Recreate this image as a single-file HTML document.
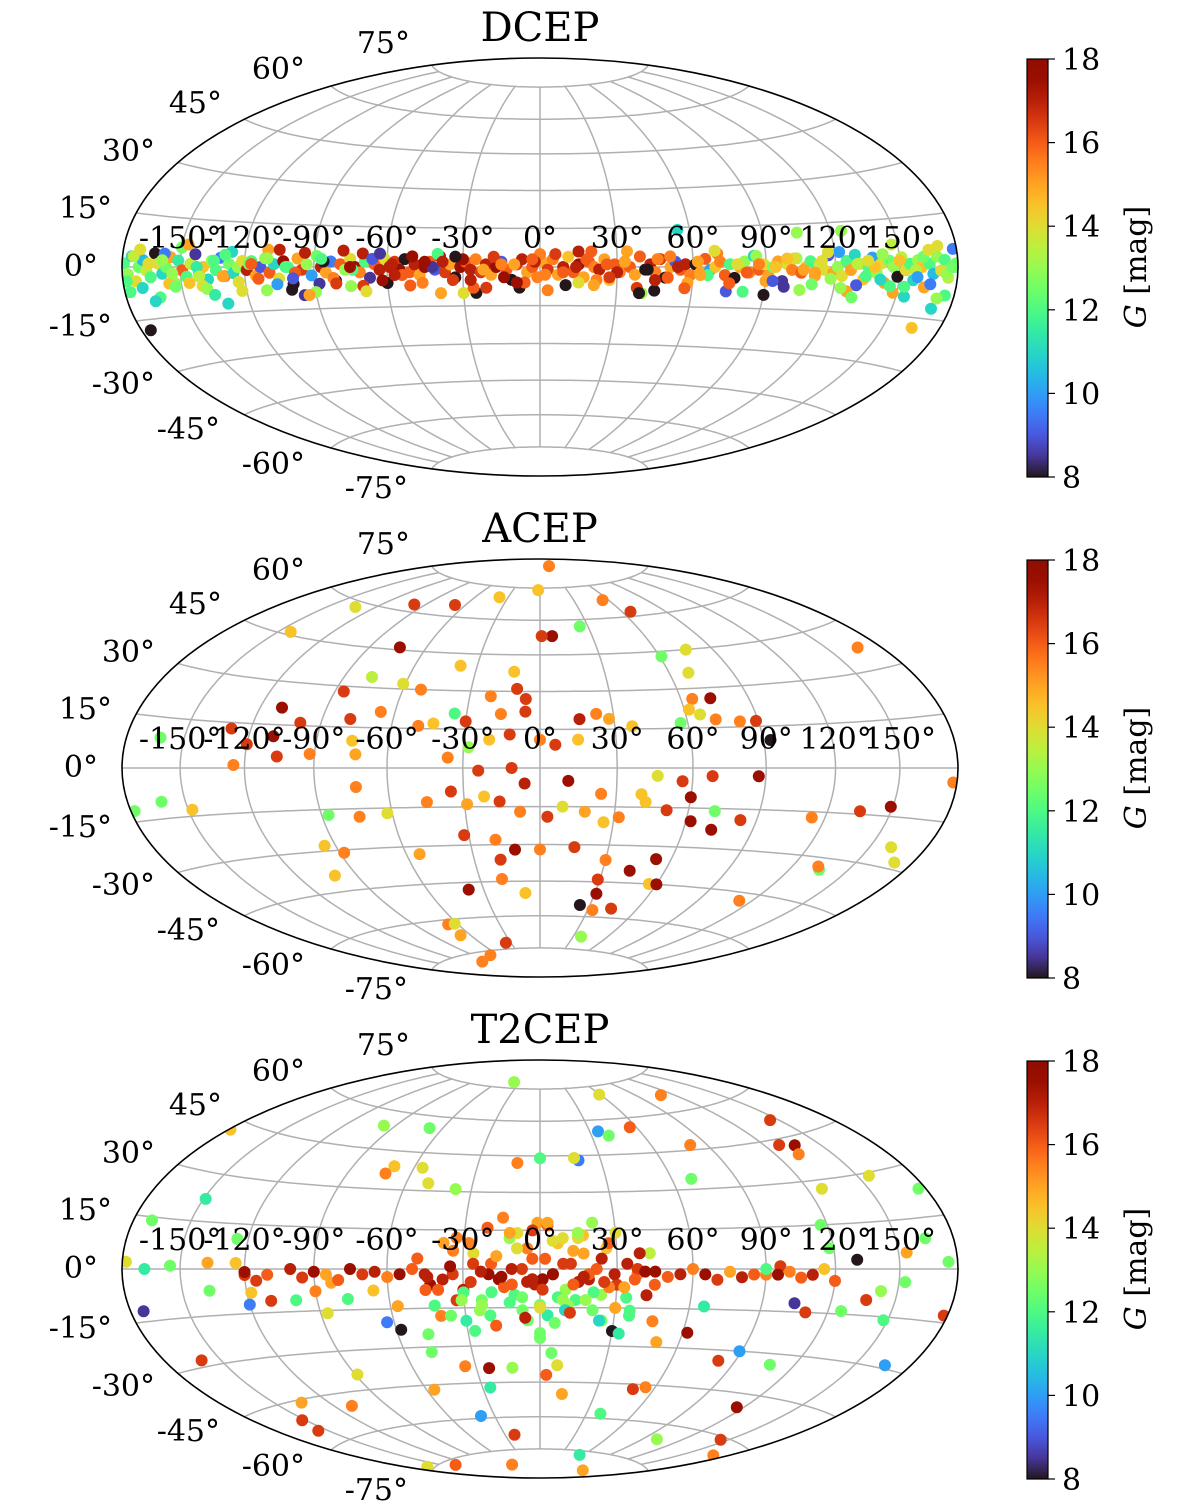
<!DOCTYPE html>
<html><head><meta charset="utf-8"><style>
html,body{margin:0;padding:0;background:#fff}
svg{display:block}
text{font-family:"DejaVu Serif","Liberation Serif",serif;fill:#000}
</style></head><body>
<svg id="fig" width="1200" height="1509" viewBox="0 0 1200 1509" xmlns="http://www.w3.org/2000/svg"></svg>
<script>
// ---------- data ----------
const dcepLon=[-179,-177,-175,-173,-171,-169,-167,-165,-163,-161,-159,-157,-155,-153,-151,-149,-147,-145,-143,-141,-139,-137,-135,-133,-131,-129,-127,-125,-123,-121,
-119,-117,-115,-113,-111,-109,-107,-105,-103,-101,-99,-97,-95,-93,-91,-89,-87,-85,-83,-81,-79,-77,-75,-73,-71,-69,-67,-65,-63,-61,
-59,-57,-55,-53,-51,-49,-47,-45,-43,-41,-39,-37,-35,-33,-31,-29,-27,-25,-23,-21,-19,-17,-15,-13,-11,-9,-7,-5,-3,-1,
1,3,5,7,9,11,13,15,17,19,21,23,25,27,29,31,33,35,37,39,41,43,45,47,49,51,53,55,57,59,
61,63,65,67,69,71,73,75,77,79,81,83,85,87,89,91,93,95,97,99,101,103,105,107,109,111,113,115,117,119,
121,123,125,127,129,131,133,135,137,139,141,143,145,147,149,151,153,155,157,159,161,163,165,167,169,171,173,175,177,179,
-175,-156,-100,-130,-95,-110,-25,-30,-8,15,40,45,90,125,165,175,170,55,105,-60,-75,-70,0,20,-40,148,178,130,-88,-140,
-178,-174,-170,-166,-162,-158,-154,-150,-146,-142,-138,-134,-130,-126,-122,-118,-114,-110,-106,-102,-98,-94,-90,-86,-82,-78,-74,-70,-66,-62,
-58,-54,-50,-46,-42,-38,-34,-30,-26,-22,-18,-14,-10,-6,-2,2,6,10,14,18,22,26,30,34,38,42,46,50,54,58,
62,66,70,74,78,82,86,90,94,98,102,106,110,114,118,122,126,130,134,138,142,146,150,154,158,162,166,170,174,178,
-177,-171,-165,-159,-153,-147,-141,-135,-129,-123,-117,-111,-105,-99,-93,-87,-81,-75,-69,-63,-57,-51,-45,-39,-33,-27,-21,-15,-9,-3,
3,9,15,21,27,33,39,45,51,57,63,69,75,81,87,93,99,105,111,117,123,129,135,141,147,153,159,165,171,177];
const dcepLat=[1,-2,3,-4,0,2,-1,-3,4,1,-2,0,3,-5,2,-1,-3,1,4,-2,0,-4,2,-1,3,-3,1,-2,0,2,
-1,2,-3,0,3,-2,1,-4,2,0,-6,3,-1,1,-3,4,0,-2,2,-5,1,-1,3,0,-2,2,-4,1,-1,3,
0,2,-1,3,-2,1,-3,0,2,-1,4,-2,1,-4,0,2,-1,3,-2,1,-3,0,2,-1,-5,1,3,-2,0,-4,
2,-1,3,-3,0,4,-2,1,-4,2,0,-1,3,-5,1,-2,2,0,-3,4,-1,1,-2,3,-4,0,2,-1,1,-3,
1,-2,3,-1,0,2,-3,1,-4,0,2,-2,4,-1,1,-3,0,2,-5,1,-1,3,-2,0,2,-3,1,-1,4,-2,
0,-3,2,-1,4,1,-4,0,3,-2,1,-5,2,0,-3,3,-1,1,-4,2,0,-6,1,-2,3,-1,2,-3,0,1,
-18,-5,-8,-12,-10,6,-10,-10,-8,-6,-10,-9,-10,12,-18,-8,-12,14,12,-6,-7,5,5,6,5,-8,5,-6,-6,-6,
-4,3,-6,1,-9,4,-2,6,-5,0,-7,2,-3,5,-8,1,-4,3,-6,0,-2,5,-9,2,-4,6,-1,-7,3,-5,
1,-3,4,-6,0,2,-5,3,-8,-1,4,-4,1,-6,2,-3,5,-7,0,3,-5,1,-2,6,-8,-1,3,-4,0,-6,
2,-3,5,-9,1,-2,4,-5,0,-7,3,-1,-6,2,-4,5,-8,1,-3,0,4,-6,2,-9,-1,3,-5,6,-2,0,
-7,5,-10,2,-6,7,-3,-9,4,-5,1,-8,6,-4,-10,3,-6,0,-9,5,-3,-7,2,-10,4,-5,-8,1,-6,3,
-9,-2,6,-7,-4,2,-10,-5,4,-8,-3,6,-6,-9,1,-5,3,-8,-2,5,-7,-10,2,-4,7,-6,-3,5,-9,0];
const dcepG=[12,13,11,14,12.5,10.5,13.5,12,8,14,11,12.5,15,13,11.5,16,12,13.5,8.5,12,14.5,11,13,12,9.5,15.5,12.5,11,13,14,
17,12,15,9,13,16,11,14,17.5,12,8,15,16.5,13,10,12.5,17,15,9.5,8,16,13,14,17.5,15.5,12,8.5,16,17,14,
17,16.5,17.5,8,16,17,15,17.5,16,9,17,16.5,15,8,17.5,16,17,15.5,16.5,17,15,17.5,9,16,8,16.5,17,15,16,15.5,
15,16.5,15.5,15,17,14.5,16,17.5,15,16,15.5,17,15,14.5,16,15.5,17.5,16,15,16,8,17,15.5,16.5,8,15,9,16,17,15.5,
8,15,16,10,14.5,15.5,16,12,8,15,13,15.5,11,16,14,15,12.5,15,8.5,14,15.5,13,16,14.5,12,15,13.5,14,9,15,
13,14,12,15,11,13.5,14.5,12,10,13,14,15,12.5,13,8,13.5,14,12,11,13,14.5,15,12,10.5,13,14,12,13.5,15,12.5,
8,14.5,8,11,8.5,15,8,14,8,14,13,8,8,13,14.5,12,11,11,13,8,13,17,15.5,16,12,15,9.5,9,8.5,14,
12,13.5,11,14,12,9.5,13,12.5,14.5,11.5,13,12,15,11,14,12.5,16,13,10,12,16,17,13,8,15.5,17,12,16.5,9,17.5,
17,16,17.5,15.5,8.5,17,16.5,17.5,16,15,16.5,17.5,15,16,17,15.5,16.5,8,17,16,15.5,16,17,15,16.5,8,15.5,16,17,15,
15,12,15.5,9,14,16,13,15,14.5,8.5,14,15,12.5,14,13,10,15,13.5,12,14.5,13,12,14.5,11,13.5,12.5,9.5,14,13,12,
12,14,11,13,12.5,15,13.5,11.5,12,14,16,13,17,9,15,12,16.5,17.5,14,8.5,17,16,17.5,15,8,17,16.5,15.5,17.5,16,
15.5,16,17,15,16.5,15,8,17,15.5,16,15,14,16,12,15.5,9,14.5,13,15,14,13,12.5,14,11,13.5,12,10,14,13,12.5];

const acepLon=[37,-2,-133,-98,-68,-38,55,66,-143,-74,7,1,25,61,76,167,-77,-86,-61,-52,-38,-12,-10,-21,-6,69,65,73,62,-110,-129,-99,-78,-66,-43,-49,-35,-30,-16,-6,16,23,28,37,57,66,72,82,89,93,-12,0,6,15,-20,-28,-75,-109,-120,-162,-125,-106,-92,-73,-36,-24,-11,-6,11,24,40,46,56,60,68,87,178,-178,-162,-148,-73,-74,-87,-62,-45,-35,-29,-22,-16,-8,3,9,18,26,32,42,51,62,72,83,71,114,135,149,161,170,135,133,113,-95,-88,-101,-54,-32,-19,-18,-11,0,15,30,43,53,56,60,29,31,24,33,44,-38,-19,-8,-67,-68,-62,-35,-70,-100,37];
const acepLat=[86,74,58,63,65,70,68,62,46,46,53,53,57,43,45,37,34,28,32,30,40,38,31,28,27,36,26,26,22,21,13,16,18,21,17,16,21,18,21,22,19,21,19,16,17,20,18,17,17,10,13,11,9,11,11,8,10,11,8,9,1,4,5,5,4,-1,0,-6,-5,-10,-10,-3,-5,-11,-3,-3,-4,-12,-10,-13,-7,-18,-17,-17,-13,-9,-14,-11,-13,-17,-19,-15,-17,-21,-19,-13,-16,-20,-23,-19,-16,-17,-14,-12,-24,-28,-34,-33,-48,-28,-31,-39,-33,-26,-28,-36,-32,-32,-31,-36,-40,-35,-45,-45,-44,-50,-55,-57,-56,-48,-44,-50,-62,-67,-62,-72,-77,-79,-69];
const acepG=[15.5,14.5,14,16.5,16.5,14.5,15.5,16.5,14.5,17.5,17.5,16.5,12.5,12.5,14,15.5,13.5,16.5,14,15.5,14.5,14.5,16.5,15.5,16.5,14,15.5,17.5,14.5,17.5,16.5,16.5,16.5,15.5,14.5,15.5,12,16.5,15.5,16.5,17,15.5,15,14.5,12.5,14,15.5,15.5,16.5,8,16.5,15.5,16.5,14.5,14.5,13,14.5,17.5,16.5,12.5,15.5,16.5,15.5,15,15.5,16.5,16.5,17,17.5,15.5,14.5,14,16.5,17.5,16.5,17.5,15.5,12.5,12.5,14.5,15.5,15.5,12.5,14,15.5,16.5,15,14.5,16.5,15.5,16.5,14,15,14.5,15.5,14.5,16.5,17.5,17.5,16.5,12.5,15.5,16.5,17.5,14,14,12.5,15.5,15.5,14.5,15.5,14.5,15,16.5,15.5,16.5,17.5,15.5,16.5,15.5,17.5,17.5,14.5,17.5,16.5,17.5,8,15.5,16.5,17.5,15.5,14.5,15.5,15,14,16.5,15.5,15.5,13];

const t2Lon=[-38,-179,-97,-68,-70,-72,-56,-37,-50,59,35,40,19,0,-11,17,56,110,81,69,145,128,136,132,127,156,176,117,-149,-125,-170,-178,-168,-155,-137,-124,-120,-115,-137,-173,-118,-120,-110,-99,-90,-83,-77,-87,-66,-63,-57,-58,-47,-42,-40,-33,-160,-135,-152,-156,-110,-89,-48,-56,-26,-39,-24,-35,-13,-22,0,5,8,3,12,39,55,30,25,36,46,50,62,66,82,89,108,104,110,126,136,142,148,153,166,178,175,165,154,130,118,96,90,49,55,101,145,171,116,120,-61,-138,-167,
-48,-43,-38,-34,-30,-26,-23,-19,-16,-12,-10,-7,-5,-2,0,2,5,7,10,12,14,17,19,22,24,26,30,34,38,43,
-38,-34,-30,-26,-23,-20,-17,-14,-11,-9,-7,-5,-3,-1,1,3,5,7,9,11,13,15,17,19,21,24,27,30,34,38,
-44,-40,-35,-31,-27,-23,-19,-15,-11,-7,-3,1,5,9,13,17,21,25,29,33,37,41,45,-20,-5,10,-12,3,15,-28,
-120,-110,-100,-95,-90,-85,-80,-75,-70,-65,-60,-55,-50,-45,45,50,55,60,65,70,75,80,85,90,95,100,105,110,115,120,
-42,-36,-30,-24,-18,-12,-6,0,6,12,18,24,30,36,42,-33,-21,-9,3,15,27,39,-15,-3,9,21,-27,33,0,-45];
const t2Lat=[78,42,54,55,39,36,39,31,33,71,55,53,43,44,42,44,56,67,47,34,51,43,42,39,27,29,23,15,22,10,14,2,0,1,2,2,-2,-4,-7,-12,-8,-12,-11,-11,-8,-5,-11,-16,-8,-20,-14,-23,-25,-14,-18,-12,-28,-46,-51,-55,-50,-39,-32,-47,-47,-59,-39,-38,-39,-68,-25,-33,-38,-42,-50,-58,-77,-24,-20,-16,-20,-28,-24,-14,-34,-30,-34,-12,-15,-14,-10,-7,-16,-4,-29,-13,2,9,5,3,7,1,-2,-47,-46,-66,-61,-65,-50,-83,-82,-77,-74,
4,-6,10,-2,-8,6,-12,2,-4,12,-10,0,8,-6,-14,4,-2,10,-8,2,-12,6,-4,0,-10,8,-6,2,-2,6,
-4,7,-9,2,-14,-2,5,-7,0,14,-16,-5,4,18,-4,-18,11,-11,2,-14,7,-5,13,-2,-16,4,-7,14,-11,0,
-3,-8,1,-12,-5,-1,-9,-3,-6,-11,-4,-8,-2,-12,-6,-3,-9,-5,-2,-7,-4,-1,-6,-18,-20,-16,14,17,12,10,
-1,-2,0,-3,-1,-2,-4,0,-2,-1,-3,-2,0,-2,-1,-3,-2,0,-2,-4,-1,-3,-2,0,-2,-1,-3,-2,0,-4,
-14,-18,-20,-16,-22,-13,-19,-15,-21,-17,-12,-20,-15,-18,-10,12,16,8,18,14,10,6,20,15,12,18,-24,-25,-27,-8];
const t2G=[13,14.5,13,12.5,14.5,15.5,14,13,14,14,10,12.5,9.5,12,15.5,14,16,15.5,15.5,12.5,16.5,16.5,17.5,15.5,14,14,12.5,12.5,11.5,12.5,12.5,14,11.5,12.5,15,14.5,16.5,16.5,12.5,8.5,14.5,9.5,16.5,12,15.5,15,12,14,14.5,9.5,15,8,12.5,12.5,15.5,16.5,16.5,15,16.5,16.5,15.5,14,12.5,15,11.5,10,17.5,15.5,13,16.5,12.5,12.5,14,16,15,12,11.5,8,12.5,12,15.5,15,17.5,11.5,16.5,10,12.5,8.5,16.5,12.5,16.5,13,12,12.5,10,16.5,12.5,12.5,15,8,12.5,16.5,15.5,16.5,15.5,13,16.5,15.5,17.5,15,15.5,16,14,
16,17.5,15,16.5,17,14,12.5,16,17.5,13,12,16.5,15.5,17,12.5,16,17.5,14.5,13,16.5,12,15,17,16,13,14.5,16.5,17,15.5,13.5,
17,15.5,12,16.5,13,17.5,15,16,17,14,12.5,17,16,15,17.5,11.5,14,12,16.5,13,15,17,14.5,16,12.5,17,15.5,14,12,16.5,
17,16,17.5,13,16.5,17,12,17.5,16,12.5,17,16.5,17.5,13,16,17,12,16.5,17,15,16,17.5,16,12,12.5,11,15,16,14,15.5,
17.5,16,17,16.5,17.5,15,16,17.5,16.5,17,15.5,17.5,16,17,17.5,16,17,15.5,17.5,16.5,15,17,16,12,17.5,15.5,16,17,14.5,16,
12,12.5,11.5,13,16,12,17,14,12.5,16.5,13,11,15,12,17,15.5,16,14,15,13,16,17,15.5,16.5,14,13,12,11.5,12.5,16];

const cbTicks=[8,10,12,14,16,18];
const latTicks=[75,60,45,30,15,0,-15,-30,-45,-60,-75];
const lonTicks=[-150,-120,-90,-60,-30,0,30,60,90,120,150];
const latLabelPos=[[410,-225],[305,-199],[222,-165],[155,-117],[112,-60],[98,-2],[112,58],[155,116],[220,161],[305,196],[408,220]];

const NS="http://www.w3.org/2000/svg";
const svg=document.getElementById('fig');
function el(tag,attrs,parent){const e=document.createElementNS(NS,tag);for(const k in attrs)e.setAttribute(k,attrs[k]);(parent||svg).appendChild(e);return e;}
function turbo(v){let x=Math.max(0,Math.min(1,(v-8)/10));
 const r=0.13572138+x*(4.61539260+x*(-42.66032258+x*(132.13108234+x*(-152.94239396+x*59.28637943))));
 const g=0.09140261+x*(2.19418839+x*(4.84296658+x*(-14.18503333+x*(4.27729857+x*2.82956604))));
 const b=0.10667330+x*(12.64194608+x*(-60.58204836+x*(110.36276771+x*(-89.90310912+x*27.34824973))));
 const c=t=>Math.round(255*Math.max(0,Math.min(1,t)));return `rgb(${c(r)},${c(g)},${c(b)})`;}
const A=418,B=209,CX=540;
function proj(lon,lat,cy){const l=lon*Math.PI/180,p=lat*Math.PI/180;const d=Math.sqrt(1+Math.cos(p)*Math.cos(l/2));
 return [CX+A*Math.cos(p)*Math.sin(l/2)/d, cy-B*Math.sin(p)/d];}

const panels=[{title:'DCEP',cy:267,lon:dcepLon,lat:dcepLat,g:dcepG,name:'dcep'},
 {title:'ACEP',cy:768,lon:acepLon,lat:acepLat,g:acepG,name:'acep'},
 {title:'T2CEP',cy:1269,lon:t2Lon,lat:t2Lat,g:t2G,name:'t2cep'}];

const defs=el('defs',{});
const grad=el('linearGradient',{id:'turboGrad',x1:0,y1:1,x2:0,y2:0},defs);
for(let i=0;i<=20;i++){el('stop',{offset:(i/20),'stop-color':turbo(8+i/2)},grad);}

panels.forEach((P,pi)=>{
 const g=el('g',{});
 
 
 const cp=el('clipPath',{id:'clip'+pi},defs);
 el('ellipse',{cx:CX,cy:P.cy,rx:A,ry:B},cp);
 const grid=el('g',{fill:'none',stroke:'#b0b0b0','stroke-width':1.5},g);
 
 
 latTicks.forEach(lt=>{let d='';for(let lo=-180;lo<=180;lo+=3){const [x,y]=proj(lo,lt,P.cy);d+=(lo==-180?'M':'L')+x.toFixed(1)+','+y.toFixed(1);}
  const pth=el('path',{d:d},grid);});
 lonTicks.forEach(lo=>{let d='';for(let lt=-75;lt<=75;lt+=2.5){const [x,y]=proj(lo,lt,P.cy);d+=(lt==-75?'M':'L')+x.toFixed(1)+','+y.toFixed(1);}
  const pth=el('path',{d:d},grid);});
 const pts=el('g',{'clip-path':`url(#clip${pi})`},g);
 
 
 for(let i=0;i<P.lon.length;i++){const [x,y]=proj(P.lon[i],P.lat[i],P.cy);
  const c=el('circle',{cx:x.toFixed(1),cy:y.toFixed(1),r:6,fill:turbo(P.g[i])},pts);
  
  }
 const fr=el('ellipse',{cx:CX,cy:P.cy,rx:A,ry:B,fill:'none',stroke:'#000','stroke-width':1.6},g);
 
 
 lonTicks.forEach(lo=>{const [x]=proj(lo,0,P.cy);const t=el('text',{x:x,y:P.cy-19,'font-size':30,'text-anchor':'middle'},g);t.textContent=lo+'°';
  });
 latTicks.forEach((lt,i)=>{const t=el('text',{x:latLabelPos[i][0],y:P.cy+latLabelPos[i][1]+11,'font-size':30,'text-anchor':'end'},g);t.textContent=lt+'°';
  });
 const tt=el('text',{x:CX,y:P.cy-226,'font-size':40,'text-anchor':'middle'},g);tt.textContent=P.title;
 
 const cb=el('g',{},g);
 
 
 const top=P.cy-208,bot=P.cy+210,h=bot-top;
 el('rect',{x:1027,y:top,width:21,height:h,fill:'url(#turboGrad)',stroke:'#000','stroke-width':1.2},cb);
 cbTicks.forEach(v=>{const y=bot-(v-8)/10*h;el('line',{x1:1048,x2:1055,y1:y,y2:y,stroke:'#000','stroke-width':1.2},cb);
  const t=el('text',{x:1062,y:y+11,'font-size':30},cb);t.textContent=v;
  });
 const lb=el('text',{x:0,y:0,'font-size':30,'text-anchor':'middle',transform:`translate(1146,${P.cy}) rotate(-90)`},cb);
 lb.innerHTML='<tspan font-style="italic">G</tspan> [mag]';
 
});
</script>
</body></html>
